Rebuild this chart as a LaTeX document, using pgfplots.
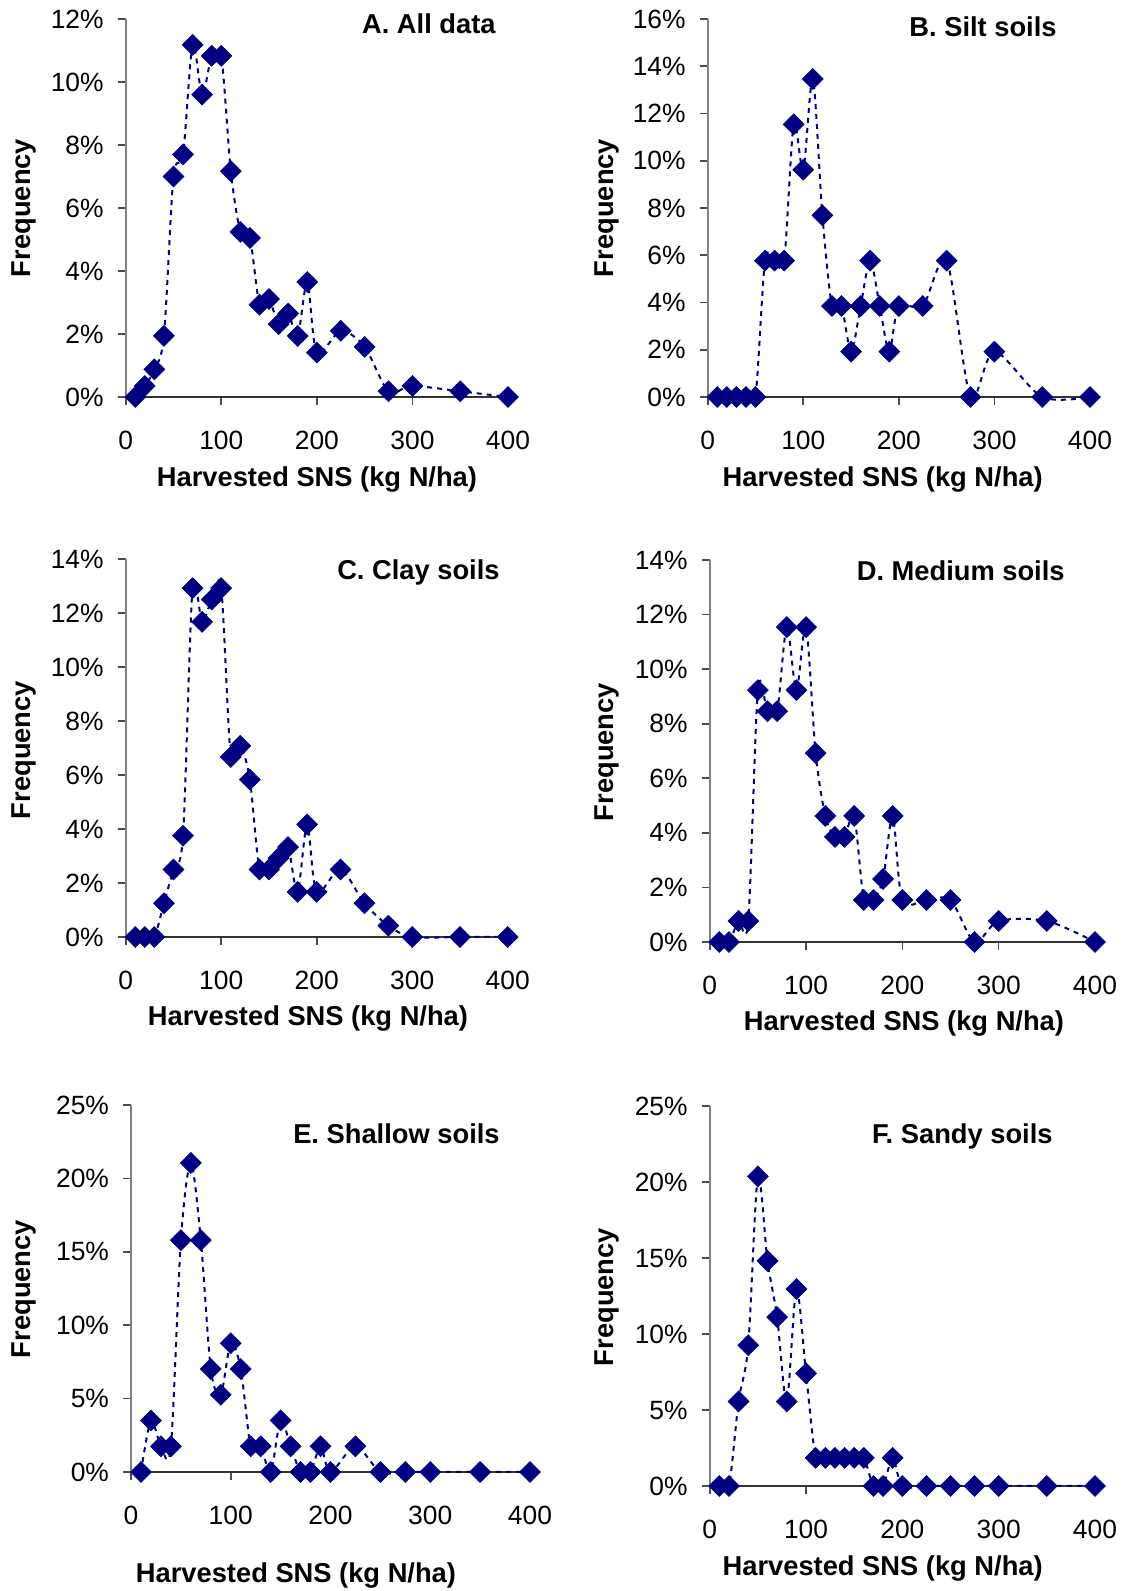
\documentclass[border=0pt]{standalone}
\usepackage{fontspec}
\setmainfont{Liberation Sans}
\usepackage{pgfplots}
\pgfplotsset{compat=1.18}
\definecolor{navy}{RGB}{0,0,128}

% frequency (%) by harvested SNS class (kg N/ha)
\pgfplotsset{
  panel/.style={
    scale only axis, clip=false,
    xmin=0, xmax=400, ymin=0,
    axis x line*=bottom, axis y line*=left,
    x axis line style={-, draw=black!80, line width=0.8pt},
    y axis line style={-, draw=black!50, line width=0.8pt},
    tick align=outside, major tick length=4pt,
    every tick/.style={black!70, line width=0.8pt},
    xtick={0,100,...,400},
    ticklabel style={font=\fontsize{13.2}{14}\selectfont},
    xticklabel style={yshift=-9.5pt},
    yticklabel style={xshift=-3.5pt},
    /pgf/number format/assume math mode=true,
    yticklabel={\pgfmathprintnumber{\tick}\%},
  },
  series/.style={
    navy, line width=1pt, dash pattern=on 2.5pt off 2.5pt,
    smooth, tension=0.5,
    mark=square*, mark size=3.7pt,
    mark options={solid, rotate=45, line width=0.3pt, fill=navy},
  },
}
\newcommand{\lab}{\fontsize{13.65}{15}\selectfont\bfseries}

\begin{document}
\begin{tikzpicture}
\path[use as bounding box] (0,0) rectangle (562.5pt,795.5pt);

% A. All data
\begin{axis}[panel, at={(62.85pt,597pt)}, anchor=south west,
  width=191.15pt, height=189pt, ymax=12, ytick={0,2,...,12}]
\addplot[series] coordinates {
(10,0) (20,0.35) (30,0.88) (40,1.94) (50,7.0) (60,7.7) (70,11.18) (80,9.6)
(90,10.83) (100,10.83) (110,7.17) (120,5.24) (130,5.05) (140,2.93) (150,3.11)
(160,2.31) (170,2.65) (180,1.94) (190,3.65) (200,1.41) (225,2.1) (250,1.59)
(275,0.18) (300,0.35) (350,0.18) (400,0)};
\end{axis}

% B. Silt soils
\begin{axis}[panel, at={(353.85pt,597pt)}, anchor=south west,
  width=191.15pt, height=189pt, ymax=16, ytick={0,2,...,16}]
\addplot[series] coordinates {
(10,0) (20,0) (30,0) (40,0) (50,0) (60,5.77) (70,5.77) (80,5.77)
(90,11.54) (100,9.62) (110,13.46) (120,7.69) (130,3.85) (140,3.85) (150,1.92)
(160,3.85) (170,5.77) (180,3.85) (190,1.92) (200,3.85) (225,3.85) (250,5.77)
(275,0) (300,1.92) (350,0) (400,0)};
\end{axis}

% C. Clay soils
\begin{axis}[panel, at={(62.85pt,327pt)}, anchor=south west,
  width=191pt, height=189pt, ymax=14, ytick={0,2,...,14}]
\addplot[series] coordinates {
(10,0) (20,0) (30,0) (40,1.25) (50,2.5) (60,3.75) (70,12.92) (80,11.67)
(90,12.5) (100,12.92) (110,6.67) (120,7.08) (130,5.83) (140,2.5) (150,2.5)
(160,2.92) (170,3.33) (180,1.67) (190,4.17) (200,1.67) (225,2.5) (250,1.25)
(275,0.42) (300,0) (350,0) (400,0)};
\end{axis}

% D. Medium soils
\begin{axis}[panel, at={(354.85pt,324.5pt)}, anchor=south west,
  width=192.65pt, height=191pt, ymax=14, ytick={0,2,...,14}]
\addplot[series] coordinates {
(10,0) (20,0) (30,0.77) (40,0.77) (50,9.23) (60,8.46) (70,8.46) (80,11.54)
(90,9.23) (100,11.54) (110,6.92) (120,4.62) (130,3.85) (140,3.85) (150,4.62)
(160,1.54) (170,1.54) (180,2.31) (190,4.62) (200,1.54) (225,1.54) (250,1.54)
(275,0) (300,0.77) (350,0.77) (400,0)};
\end{axis}

% E. Shallow soils
\begin{axis}[panel, at={(65.5pt,59.5pt)}, anchor=south west,
  width=199.5pt, height=183.5pt, ymax=25, ytick={0,5,...,25}]
\addplot[series] coordinates {
(10,0) (20,3.51) (30,1.75) (40,1.75) (50,15.79) (60,21.05) (70,15.79) (80,7.02)
(90,5.26) (100,8.77) (110,7.02) (120,1.75) (130,1.75) (140,0) (150,3.51)
(160,1.75) (170,0) (180,0) (190,1.75) (200,0) (225,1.75) (250,0)
(275,0) (300,0) (350,0) (400,0)};
\end{axis}

% F. Sandy soils
\begin{axis}[panel, at={(354.85pt,52.5pt)}, anchor=south west,
  width=192.65pt, height=190pt, ymax=25, ytick={0,5,...,25}]
\addplot[series] coordinates {
(10,0) (20,0) (30,5.56) (40,9.26) (50,20.37) (60,14.81) (70,11.11) (80,5.56)
(90,12.96) (100,7.41) (110,1.85) (120,1.85) (130,1.85) (140,1.85) (150,1.85)
(160,1.85) (170,0) (180,0) (190,1.85) (200,0) (225,0) (250,0)
(275,0) (300,0) (350,0) (400,0)};
\end{axis}

% panel titles
\node[anchor=base east, inner sep=0pt, font=\lab] at (248pt,778.5pt) {A. All data};
\node[anchor=base east, inner sep=0pt, font=\lab] at (528.5pt,777pt) {B. Silt soils};
\node[anchor=base east, inner sep=0pt, font=\lab] at (250pt,505.5pt) {C. Clay soils};
\node[anchor=base east, inner sep=0pt, font=\lab] at (532.5pt,505.15pt) {D. Medium soils};
\node[anchor=base east, inner sep=0pt, font=\lab] at (250pt,223.5pt) {E. Shallow soils};
\node[anchor=base east, inner sep=0pt, font=\lab] at (526.5pt,223.5pt) {F. Sandy soils};

% x labels
\node[anchor=base, inner sep=0pt, font=\lab] at (158.5pt,552pt) {Harvested SNS (kg N/ha)};
\node[anchor=base, inner sep=0pt, font=\lab] at (441.35pt,552pt) {Harvested SNS (kg N/ha)};
\node[anchor=base, inner sep=0pt, font=\lab] at (154pt,282.5pt) {Harvested SNS (kg N/ha)};
\node[anchor=base, inner sep=0pt, font=\lab] at (452pt,280pt) {Harvested SNS (kg N/ha)};
\node[anchor=base, inner sep=0pt, font=\lab] at (148pt,4.5pt) {Harvested SNS (kg N/ha)};
\node[anchor=base, inner sep=0pt, font=\lab] at (441.35pt,8pt) {Harvested SNS (kg N/ha)};

% y labels
\node[anchor=base, rotate=90, inner sep=0pt, font=\lab] at (15pt,691.5pt) {Frequency};
\node[anchor=base, rotate=90, inner sep=0pt, font=\lab] at (306.5pt,691.5pt) {Frequency};
\node[anchor=base, rotate=90, inner sep=0pt, font=\lab] at (15pt,420.5pt) {Frequency};
\node[anchor=base, rotate=90, inner sep=0pt, font=\lab] at (306.5pt,419.5pt) {Frequency};
\node[anchor=base, rotate=90, inner sep=0pt, font=\lab] at (15pt,151pt) {Frequency};
\node[anchor=base, rotate=90, inner sep=0pt, font=\lab] at (306.5pt,147pt) {Frequency};
\end{tikzpicture}
\end{document}
